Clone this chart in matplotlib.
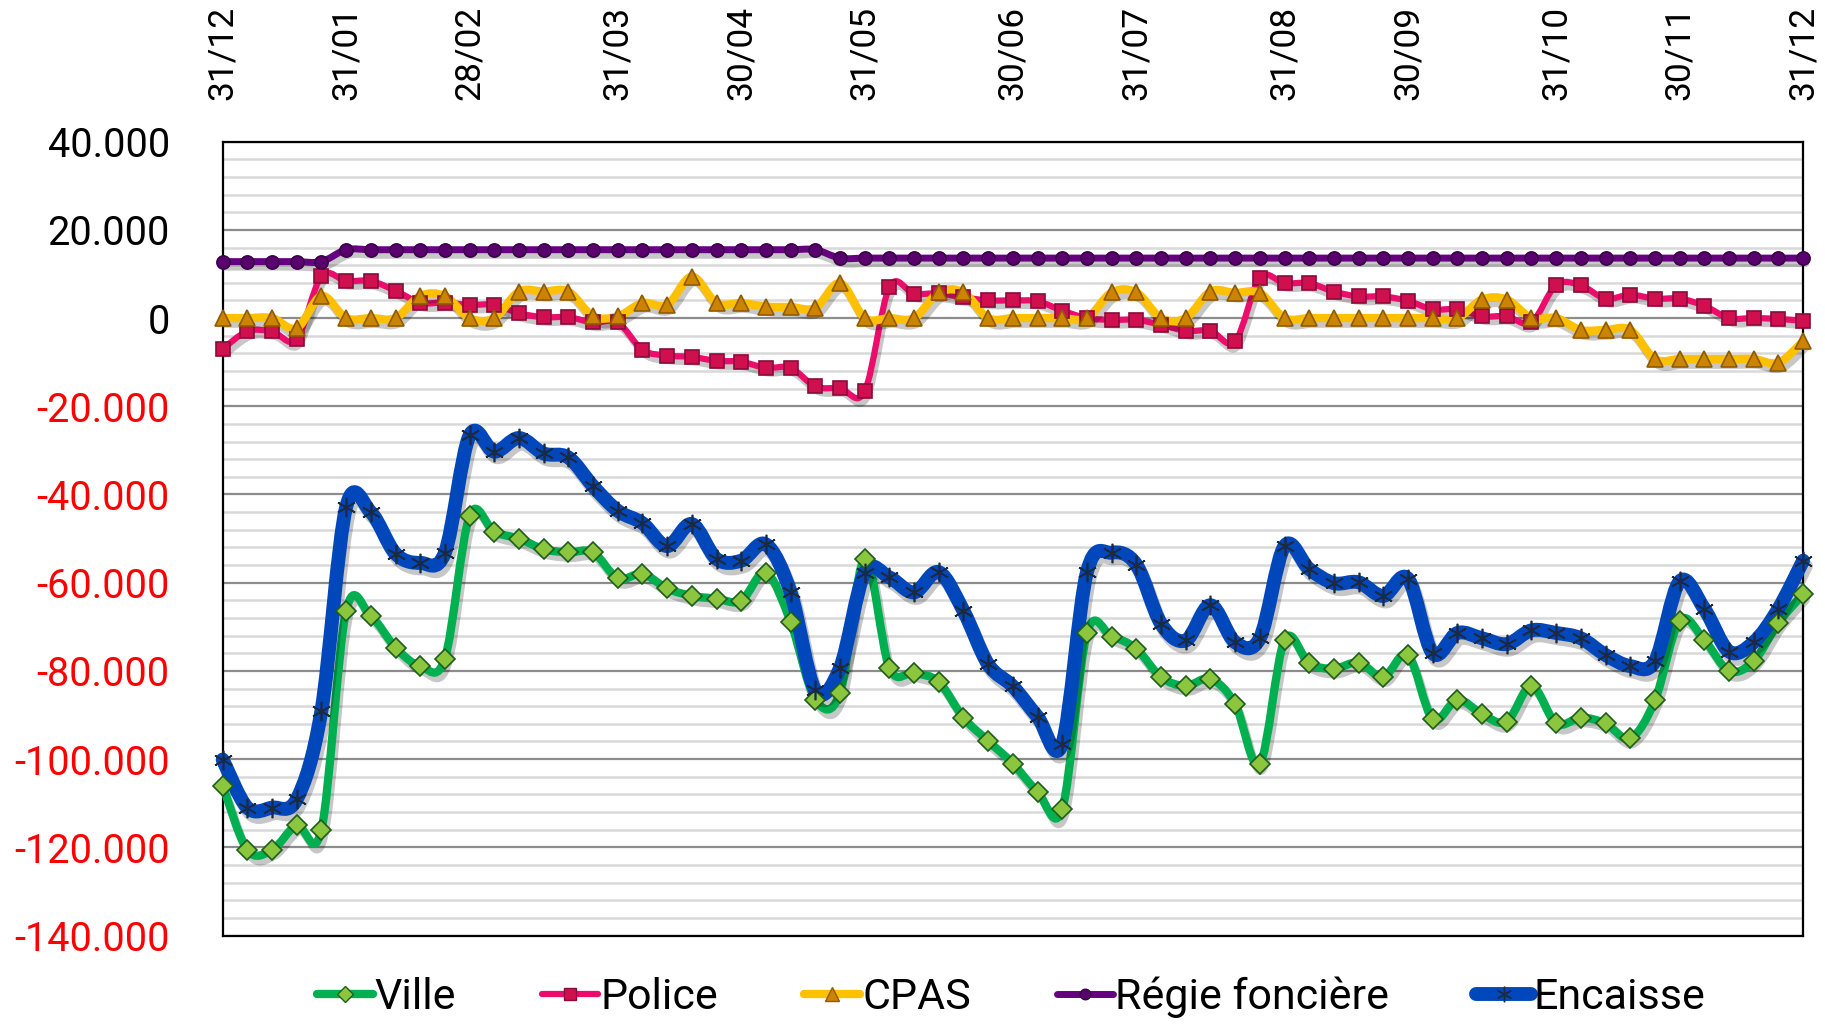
import matplotlib
matplotlib.use("Agg")
import matplotlib.pyplot as plt
import matplotlib.patheffects as pe
from matplotlib.path import Path
from matplotlib.patches import PathPatch
from matplotlib.lines import Line2D
from matplotlib.ticker import MultipleLocator, FuncFormatter

plt.rcParams['font.family'] = ['Roboto', 'DejaVu Sans']

# ------------------------------------------------------------
# Data (one point per week + month ends, 31/12 -> 31/12)
# ------------------------------------------------------------
month_labels = ['31/12', '31/01', '28/02', '31/03', '30/04', '31/05', '30/06',
                '31/07', '31/08', '30/09', '31/10', '30/11', '31/12']
month_pos = [0, 5, 10, 16, 21, 26, 32, 37, 43, 48, 54, 59, 64]

ville = [-106000, -120600, -120600, -115000, -116000, -66400, -67600, -74700,
         -78900, -77200, -44800, -48500, -50000, -52400, -53100, -53100, -59000,
         -58000, -61300, -63000, -63600, -64100, -57700, -68900, -86500, -85000,
         -54600, -79300, -80400, -82500, -90600, -95900, -101000, -107400,
         -111300, -71400, -72200, -75000, -81400, -83400, -81800,
         -87500, -101100, -73000, -78300, -79500, -78100, -81400, -76400,
         -90900, -86500, -89800, -91500, -83400, -91900, -90600, -91900,
         -95300, -86700, -68600, -73000, -80000, -77800, -69100, -62600]

police = [-7000, -3000, -3000, -4800, 9500, 8400, 8400, 6200, 3500, 3500, 3000,
          3000, 1100, 200, 200, -1000, -1000,
          -7200, -8500, -8800, -9700, -9900, -11300, -11300, -15500, -15900,
          -16600, 7000, 5500, 5600, 4700, 4000, 4000, 3800, 1700, 0, -400, -400,
          -1500, -2900, -2900,
          -5300, 9100, 7900, 7900, 6000, 4900, 4900, 3900, 2000, 2000, 400, 400,
          -1000, 7500, 7400, 4400, 5300, 4400, 4400, 2800, 0, 0, -200, -600]

cpas = [0, 0, 0, -2300, 5000, 0, 0, 0, 5000, 5000, 0, 0, 6000, 6000, 6000, 400,
        400,
        3400, 3000, 9400, 3400, 3400, 2600, 2500, 2300, 7900, 0, 0, 0, 5800, 5800,
        0, 0, 0, 0, 0, 5800, 5800, 0, 0, 6000,
        5700, 5700, 0, 0, 0, 0, 0, 0, 0, 0, 4200, 4200, 0, 0, -2700, -2700, -2700,
        -9300, -9300, -9300, -9300, -9300, -10100, -5300]

regie = [12800, 12800, 12800, 12800, 12800, 15500, 15500, 15500, 15500, 15500,
         15500, 15500, 15500, 15500, 15500, 15500, 15500, 15500, 15500, 15500,
         15500, 15500, 15500, 15500, 15500, 13600, 13600, 13600, 13600, 13600,
         13600, 13600, 13600, 13600, 13600, 13600, 13600, 13600, 13600, 13600,
         13600, 13600, 13600, 13600, 13600, 13600, 13600, 13600, 13600, 13600,
         13600, 13600, 13600, 13600, 13600, 13600, 13600, 13600, 13600, 13600,
         13600, 13600, 13600, 13600, 13600]

encaisse = [-100100, -111000, -111000, -109100, -89000, -42900, -44000, -53400,
            -55500, -53200, -26600, -30300, -27200, -30700, -31600, -38100,
            -43700,
            -46500, -51700, -46700, -54600, -55000, -51300, -62200, -84400,
            -79300, -57700, -58800, -62200, -57600, -66400, -78500, -83500,
            -90400, -96500, -57600, -53200, -55900, -69300, -73100, -65100,
            -73500, -72600, -51700, -56900, -60100, -59900, -63000, -59100,
            -76000, -71400, -72600, -73900, -70800, -71400, -72600, -76400,
            -78900, -77800, -59700, -65900, -75600, -73500, -65900, -55000]

x = list(range(len(ville)))

# name, values, line colour, line width, marker, marker size, face, edge
series = [
    ('Ville', ville, '#00B050', 6.0, 'D', 10.5, '#8CC63F', '#1D5E1D'),
    ('Police', police, '#EC0C6C', 4.5, 's', 10, '#D0104E', '#8A0A3A'),
    ('CPAS', cpas, '#FFC000', 6.0, '^', 12, '#CC8400', '#8F5A00'),
    ('Régie foncière', regie, '#660080', 5.0, 'o', 9.5, '#5A006E', '#3A0048'),
    ('Encaisse', encaisse, '#0047BB', 10.0, (6, 2, 0), 14, '#1B2A41', '#1B2A41'),
]


def smooth_path(xs, ys):
    # Bezier path through the points, like Excel's "smoothed line"
    verts = [(xs[0], ys[0])]
    codes = [Path.MOVETO]
    n = len(xs)
    for i in range(n - 1):
        xp, yp = (xs[i - 1], ys[i - 1]) if i > 0 else (xs[i], ys[i])
        xn, yn = (xs[i + 2], ys[i + 2]) if i + 2 < n else (xs[i + 1], ys[i + 1])
        c1 = (xs[i] + (xs[i + 1] - xp) / 6, ys[i] + (ys[i + 1] - yp) / 6)
        c2 = (xs[i + 1] - (xn - xs[i]) / 6, ys[i + 1] - (yn - ys[i]) / 6)
        verts += [c1, c2, (xs[i + 1], ys[i + 1])]
        codes += [Path.CURVE4] * 3
    return Path(verts, codes)


fig = plt.figure(figsize=(18.25, 10.31), dpi=100)
ax = fig.add_axes([0.122, 0.0926, 0.866, 0.77])

shadow = [pe.SimpleLineShadow(offset=(2, -4), shadow_color='black', alpha=0.22),
          pe.Normal()]

for name, vals, col, lw, mk, ms, fc, ec in series:
    patch = PathPatch(smooth_path(x, vals), fill=False, edgecolor=col, lw=lw,
                      capstyle='round', joinstyle='round', clip_on=False,
                      zorder=3)
    patch.set_path_effects(shadow)
    ax.add_patch(patch)

for name, vals, col, lw, mk, ms, fc, ec in series:
    ax.plot(x, vals, linestyle='none', marker=mk, markersize=ms,
            markerfacecolor=fc, markeredgecolor=ec, markeredgewidth=1.2,
            clip_on=False, zorder=4)

ax.set_xlim(0, 64)
ax.set_ylim(-140000, 40000)

# grid
ax.yaxis.set_major_locator(MultipleLocator(20000))
ax.yaxis.set_minor_locator(MultipleLocator(4000))
ax.grid(axis='y', which='minor', color='#D9D9D9', lw=1.8, zorder=0)
ax.grid(axis='y', which='major', color='#8C8C8C', lw=1.6, zorder=1)
ax.set_axisbelow(True)

for sp in ax.spines.values():
    sp.set_color('black')
    sp.set_linewidth(1.6)

ax.yaxis.set_major_formatter(FuncFormatter(lambda v, p: f"{v:,.0f}".replace(',', '.')))
ax.tick_params(axis='y', which='both', length=0, labelsize=28.5, pad=38)
for lab, val in zip(ax.get_yticklabels(), ax.get_yticks()):
    lab.set_color('#FF0000' if val < 0 else 'black')

ax.xaxis.tick_top()
ax.set_xticks(month_pos)
ax.set_xticklabels(month_labels, rotation=90, fontsize=25.5)
ax.tick_params(axis='x', length=0, pad=30)

handles = [Line2D([], [], color=col, lw=lw, marker=mk, markersize=ms * 0.8,
                  markerfacecolor=fc, markeredgecolor=ec, solid_capstyle='round')
           for name, vals, col, lw, mk, ms, fc, ec in series]
fig.legend(handles, [s[0] for s in series], loc='center',
           bbox_to_anchor=(0.554, 0.033), ncol=5, frameon=False,
           fontsize=31, handlelength=1.3, handletextpad=0.05,
           columnspacing=2.0)

fig.savefig('out.png', dpi=100)
